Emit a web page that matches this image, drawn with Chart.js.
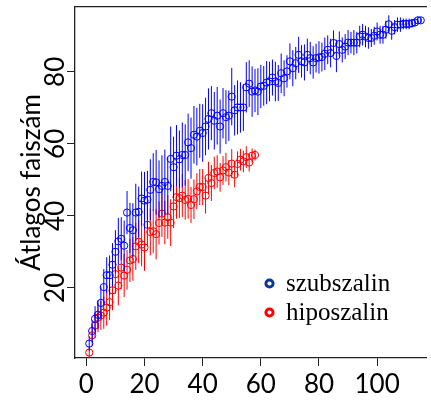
<!DOCTYPE html>
<html><head><meta charset="utf-8">
<script src="https://cdn.jsdelivr.net/npm/chart.js@4"></script>
<style>html,body{margin:0;padding:0;background:#fff}#wrap{width:431px;height:400px}</style>
</head><body><div id="wrap"><canvas id="c" width="431" height="400"></canvas></div>
<script>
// Series labels
const seriesNames = ['szubszalin', 'hiposzalin'];
const axisTitleY = 'Átlagos faiszám';
const xTickValues = [0, 20, 40, 60, 80, 100];
const yTickValues = [20, 40, 60, 80];

// szubszalin: mean values at x = 1..115
const blueMean = [
  4.5, 8, 11.4, 12.5, 15.8, 20.2, 23.5, 23.5, 26.4, 30,
  32.9, 33.6, 31.7, 40.9, 36.6, 36, 40.9, 41.1, 44.8, 44.2,
  44.5, 47.2, 49.4, 49.3, 47.4, 48.3, 49.4, 48.3, 55.8, 53.5,
  56.7, 55.7, 56.9, 56.9, 60.4, 58.8, 62.5, 62, 63.6, 63,
  64.8, 66.9, 68.5, 66.4, 67.8, 64.8, 68.5, 67.4, 67.8, 73.1,
  69.3, 70.1, 70.1, 70.1, 75.7, 76.7, 74.5, 74.8, 74.5, 75.9,
  76.1, 77, 77.3, 78.4, 77.3, 76.9, 79.6, 78.2, 80.1, 82.9,
  81, 82.4, 84.7, 82.9, 82.6, 84.7, 83.8, 82.6, 83.8, 84,
  84.1, 85, 86.1, 85.2, 88, 84.4, 87.7, 86.1, 87, 88.1,
  88.1, 88.1, 88.1, 89.8, 90.3, 89.8, 89.4, 89.4, 90, 91.2,
  90.3, 90.3, 91.7, 93.2, 91.4, 92.4, 93.1, 93.1, 93.3, 93.3,
  93.3, 93.5, 93.7, 94.3, 94.3
];
// szubszalin: error bar half-lengths
const blueErr = [
  2, 3, 3.5, 4, 4.5, 5, 5, 5.5, 6, 6,
  6.5, 6, 7, 6, 7, 7.5, 8, 7, 7.5, 8,
  8, 8.5, 8, 9, 8, 8.5, 9, 8, 9, 8.5,
  8.5, 8, 9, 8.5, 8, 8.5, 8, 8, 7.5, 8,
  8, 8.5, 7.5, 8, 8, 7.5, 7, 7.5, 7, 8,
  7, 7.5, 7, 6.5, 7, 6.5, 7, 6, 6.5, 6,
  5.5, 6, 5.5, 5, 5.5, 5, 5.5, 5, 4.5, 5,
  5, 4.5, 5, 4.5, 5, 4.5, 4.5, 4.5, 4, 4.5,
  4, 4.5, 4, 4, 3.5, 4.5, 3.5, 3.5, 3.5, 3.5,
  3, 3.5, 3, 3, 3, 3, 3, 2.5, 2.5, 2.5,
  2.5, 2.5, 2.5, 2.5, 2.5, 2, 2, 2, 1.5, 1.5,
  1.5, 1.2, 1, 1, 0.8
];
// hiposzalin: mean values at x = 1..58
const redMean = [
  2, 6.8, 9.5, 11.7, 12.3, 13.1, 14.5, 16, 19.3, 23.8,
  20.6, 25.6, 23.4, 25, 27.6, 28, 31.5, 32.8, 32, 31.2,
  37.5, 35.5, 35.7, 34.9, 38, 40.6, 38.1, 39.6, 38.1, 42.6,
  45.2, 44.9, 45.6, 44.4, 44.7, 43, 44.6, 46.8, 48, 48,
  45.6, 50.5, 49.1, 51.9, 52.3, 50.7, 52.6, 53.5, 52, 54.5,
  51.4, 54.4, 55.6, 55.1, 56.3, 54.8, 56.7, 56.9
];
// hiposzalin: error bar half-lengths
const redErr = [
  1.5, 3, 3.5, 4, 4, 4.5, 5, 5, 5.5, 5.5,
  5.5, 6, 6, 5.5, 6, 6, 6.5, 6, 6, 6.5,
  6, 6.5, 6, 7, 6, 6.5, 6, 6, 6.5, 6,
  6, 5.5, 6, 5.5, 5.5, 5, 5.5, 5, 5, 5,
  5, 4.5, 5, 4.5, 4.5, 4, 4, 4, 3.5, 4,
  3.5, 3.5, 3, 3, 3, 2.5, 2, 1.5
];

const FONT = 'Lato';
function pts(mean) { return mean.map((v, i) => ({ x: i + 1, y: v })); }
function bars(mean, err) {
  const out = [];
  mean.forEach((v, i) => {
    out.push({ x: i + 1, y: v - err[i] });
    out.push({ x: i + 1, y: v + err[i] });
    out.push({ x: i + 1, y: null });
  });
  return out;
}

const yTickLabelPlugin = {
  id: 'yTickLabels',
  afterDraw(chart) {
    const s = chart.scales.y, ctx = chart.ctx;
    ctx.save();
    ctx.font = '26px ' + FONT;
    ctx.fillStyle = '#000';
    ctx.textAlign = 'center';
    ctx.textBaseline = 'alphabetic';
    s.ticks.forEach(t => {
      const py = s.getPixelForValue(t.value);
      ctx.save();
      ctx.translate(64, py);
      ctx.rotate(-Math.PI / 2);
      ctx.fillText(String(t.value), 0, 0);
      ctx.restore();
    });
    ctx.restore();
  }
};

const legendPlugin = {
  id: 'innerLegend',
  afterDraw(chart) {
    const ctx = chart.ctx;
    const items = [
      { label: seriesNames[0], color: '#0a36a0', cy: 283.5, base: 290.5 },
      { label: seriesNames[1], color: '#ff0000', cy: 312.5, base: 320 }
    ];
    ctx.save();
    items.forEach(it => {
      ctx.beginPath();
      ctx.lineWidth = 3;
      ctx.strokeStyle = it.color;
      ctx.arc(269.5, it.cy, 3.6, 0, Math.PI * 2);
      ctx.stroke();
      ctx.fillStyle = '#000';
      ctx.font = '25px "Liberation Serif"';
      ctx.textAlign = 'left';
      ctx.textBaseline = 'alphabetic';
      ctx.fillText(it.label, 286, it.base);
    });
    ctx.restore();
  }
};

new Chart(document.getElementById('c'), {
  type: 'scatter',
  data: {
    datasets: [
      { type: 'line', label: seriesNames[0] + ' hiba', data: bars(blueMean, blueErr), borderColor: '#0000ff', borderWidth: 1, pointRadius: 0, spanGaps: false, fill: false },
      { label: seriesNames[0], data: pts(blueMean), borderColor: '#0000ff', backgroundColor: 'rgba(0,0,0,0)', borderWidth: 1, pointRadius: 3.6, pointStyle: 'circle' },
      { type: 'line', label: seriesNames[1] + ' hiba', data: bars(redMean, redErr), borderColor: '#ff0000', borderWidth: 1, pointRadius: 0, spanGaps: false, fill: false },
      { label: seriesNames[1], data: pts(redMean), borderColor: '#ff0000', backgroundColor: 'rgba(0,0,0,0)', borderWidth: 1, pointRadius: 3.6, pointStyle: 'circle' }
    ]
  },
  options: {
    responsive: false,
    devicePixelRatio: 1,
    animation: false,
    layout: { padding: { top: 7, right: 0, left: 0, bottom: 0 } },
    plugins: { legend: { display: false }, tooltip: { enabled: false } },
    scales: {
      x: {
        type: 'linear', position: 'bottom', min: -3.9, max: 116.8,
        afterBuildTicks: s => { s.ticks = xTickValues.map(v => ({ value: v })); },
        afterFit: s => { s.height = 42; },
        ticks: { font: { family: FONT, size: 26 }, color: '#000', padding: 3, maxRotation: 0, autoSkip: false },
        grid: { drawOnChartArea: false, drawTicks: true, tickLength: 8, tickColor: '#222', lineWidth: 1 },
        border: { display: true, color: '#222', width: 1.3 }
      },
      x2: {
        type: 'linear', position: 'top', min: -3.9, max: 116.8,
        afterFit: s => { s.height = 0; },
        ticks: { display: false },
        grid: { display: false },
        border: { display: true, color: '#222', width: 1.3 }
      },
      y: {
        type: 'linear', position: 'left', min: 0.5, max: 98,
        afterBuildTicks: s => { s.ticks = yTickValues.map(v => ({ value: v })); },
        afterFit: s => { s.width = 75; },
        ticks: { display: false },
        grid: { drawOnChartArea: false, drawTicks: true, tickLength: 8, tickColor: '#222', lineWidth: 1 },
        border: { display: true, color: '#222', width: 1.3 },
        title: { display: true, text: axisTitleY, font: { family: FONT, size: 26 }, color: '#000', padding: { top: 16, bottom: 0 } }
      }
    }
  },
  plugins: [yTickLabelPlugin, legendPlugin]
});
</script>
</body></html>
